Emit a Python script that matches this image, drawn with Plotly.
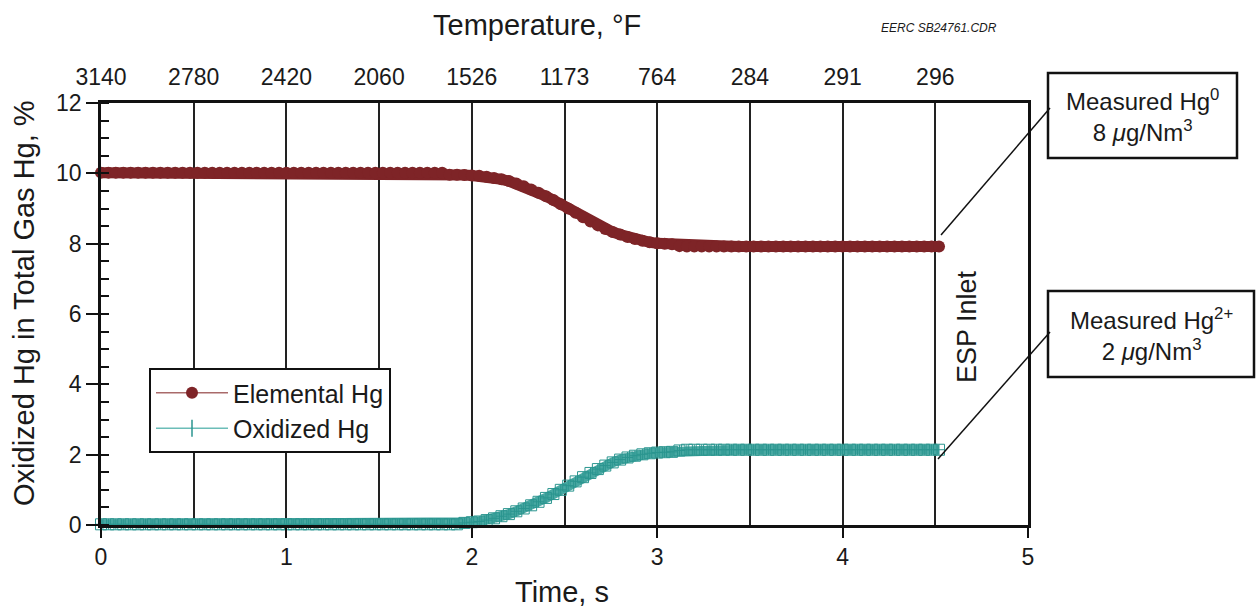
import plotly.graph_objects as go

# ---------------- data ----------------
TIME_S = [round(0.04 * i, 2) for i in range(114)]  # sampling times, 0 .. 4.52 s

ELEMENTAL_HG = [
    10.02, 10.02, 10.02, 10.02, 10.02, 10.02, 10.02, 10.02, 10.02, 10.02,
    10.02, 10.02, 10.02, 10.02, 10.02, 10.02, 10.02, 10.02, 10.02, 10.02,
    10.02, 10.02, 10.02, 10.02, 10.02, 10.02, 10.02, 10.02, 10.02, 10.02,
    10.02, 10.02, 10.02, 10.02, 10.02, 10.02, 10.02, 10.02, 10.02, 10.02,
    10.02, 10.02, 10.02, 10.02, 10.02, 10.02, 10.02,
    9.96, 9.96, 9.95, 9.94, 9.93, 9.90, 9.87, 9.83, 9.78, 9.71,
    9.63, 9.54, 9.45, 9.35, 9.24, 9.12, 9.00, 8.88, 8.75, 8.63,
    8.52, 8.42, 8.33, 8.26, 8.19, 8.13, 8.08, 8.04, 8.01, 8.00,
    7.98, 7.93,
    7.92, 7.92, 7.92, 7.92, 7.92, 7.92, 7.92, 7.92, 7.92, 7.92,
    7.92, 7.92, 7.92, 7.92, 7.92, 7.92, 7.92, 7.92, 7.92, 7.92,
    7.92, 7.92, 7.92, 7.92, 7.92, 7.92, 7.92, 7.92, 7.92, 7.92,
    7.92, 7.92, 7.92, 7.92, 7.92,
]

OXIDIZED_HG = [
    0.02, 0.02, 0.02, 0.02, 0.02, 0.02, 0.02, 0.02, 0.02, 0.02,
    0.02, 0.02, 0.02, 0.02, 0.02, 0.02, 0.02, 0.02, 0.02, 0.02,
    0.02, 0.02, 0.02, 0.02, 0.02, 0.02, 0.02, 0.02, 0.02, 0.02,
    0.02, 0.02, 0.02, 0.02, 0.02, 0.02, 0.02, 0.02, 0.02, 0.02,
    0.02, 0.02, 0.02, 0.02, 0.02, 0.02, 0.02, 0.02, 0.02,
    0.06, 0.08, 0.10, 0.14, 0.19, 0.25, 0.31, 0.39, 0.47, 0.56,
    0.66, 0.77, 0.88, 1.00, 1.12, 1.24, 1.36, 1.48, 1.59, 1.69,
    1.78, 1.86, 1.92, 1.97, 2.01, 2.04, 2.06, 2.07, 2.08, 2.12,
    2.14, 2.14, 2.14, 2.14, 2.14, 2.14, 2.14, 2.14, 2.14, 2.14,
    2.14, 2.14, 2.14, 2.14, 2.14, 2.14, 2.14, 2.14, 2.14, 2.14,
    2.14, 2.14, 2.14, 2.14, 2.14, 2.14, 2.14, 2.14, 2.14, 2.14,
    2.14, 2.14, 2.14, 2.14, 2.14,
]

BOTTOM_TICKS = [0, 1, 2, 3, 4, 5]
TOP_TICK_POS = [0, 0.5, 1, 1.5, 2, 2.5, 3, 3.5, 4, 4.5]
TOP_TICK_TEMPS = ["3140", "2780", "2420", "2060", "1526", "1173", "764", "284", "291", "296"]
Y_TICKS = [0, 2, 4, 6, 8, 10, 12]

# ---------------- styling ----------------
FONT = "Liberation Sans, Arial, Helvetica, sans-serif"
RED = "#7e2427"
RED_LIGHT = "#a96a6a"
TEAL = "#2a958f"
TEAL_BAND = "#48a8a2"

W, H = 1256, 613
L, R, T, B = 101, 1028, 103, 525


def px(x):
    return (x - L) / (R - L)


def py(y):
    return (B - y) / (B - T)


fig = go.Figure()

fig.add_trace(go.Scatter(
    x=TIME_S, y=ELEMENTAL_HG, mode="lines+markers",
    line=dict(color=RED, width=11),
    marker=dict(symbol="circle", size=12, color=RED),
    showlegend=False, cliponaxis=False,
))
fig.add_trace(go.Scatter(
    x=TIME_S, y=OXIDIZED_HG, mode="lines+markers",
    line=dict(color=TEAL_BAND, width=10),
    marker=dict(symbol="square-cross-open", size=11, color=TEAL, line=dict(width=1)),
    showlegend=False, cliponaxis=False,
))

# legend-only entries (thin line + marker, like the reference key)
fig.add_trace(go.Scatter(
    x=[None], y=[None], xaxis="x2", mode="lines+markers", name="Elemental Hg",
    line=dict(color=RED_LIGHT, width=1.5),
    marker=dict(symbol="circle", size=12, color=RED),
))
fig.add_trace(go.Scatter(
    x=[None], y=[None], xaxis="x2", mode="lines+markers", name="Oxidized Hg",
    line=dict(color="#6cbdb8", width=1.5),
    marker=dict(symbol="line-ns", size=12, color=TEAL, line=dict(width=1.5, color=TEAL)),
))

fig.update_layout(
    width=W, height=H,
    margin=dict(l=L, r=W - R, t=T, b=H - B),
    paper_bgcolor="white", plot_bgcolor="white",
    font=dict(family=FONT, size=23, color="#1a1a1a"),
    xaxis=dict(
        range=[0, 5], tickvals=BOTTOM_TICKS, ticks="outside", ticklen=10, tickwidth=2,
        tickcolor="#111", showline=True, linecolor="#111", linewidth=2.5, mirror=True,
        showgrid=False, zeroline=False, tickfont=dict(size=23),
    ),
    xaxis2=dict(
        overlaying="x", side="top", range=[0, 5], tickvals=TOP_TICK_POS,
        ticktext=TOP_TICK_TEMPS, ticks="", showline=False, showgrid=True,
        gridcolor="#222", gridwidth=1.5, zeroline=False, tickfont=dict(size=23),
        ticklabelstandoff=12,
    ),
    yaxis=dict(
        range=[0, 12], tickvals=Y_TICKS, ticks="outside", ticklen=12, tickwidth=2,
        tickcolor="#111", showline=True, linecolor="#111", linewidth=2.5, mirror=True,
        showgrid=False, zeroline=False, tickfont=dict(size=23),
        minor=dict(dtick=0.5, ticks="inside", ticklen=8, tickwidth=1.5, tickcolor="#111",
                   showgrid=False),
    ),
    legend=dict(
        x=px(149), y=py(368), xanchor="left", yanchor="top",
        bordercolor="#111", borderwidth=2, bgcolor="white",
        font=dict(size=25), tracegroupgap=0, itemwidth=72,
    ),
)

# titles / text
fig.add_annotation(text="Temperature, °F", xref="paper", yref="paper",
                   x=px(537), y=py(25), showarrow=False, font=dict(size=29),
                   xanchor="center", yanchor="middle")
fig.add_annotation(text="<i>EERC SB24761.CDR</i>", xref="paper", yref="paper",
                   x=px(939), y=py(28), showarrow=False, font=dict(size=12),
                   xanchor="center", yanchor="middle")
fig.add_annotation(text="Time, s", xref="paper", yref="paper",
                   x=px(562), y=py(592), showarrow=False, font=dict(size=29),
                   xanchor="center", yanchor="middle")
fig.add_annotation(text="Oxidized Hg in Total Gas Hg, %", xref="paper", yref="paper",
                   x=px(24), y=py(303), showarrow=False, font=dict(size=29),
                   textangle=-90, xanchor="center", yanchor="middle")
fig.add_annotation(text="ESP Inlet", xref="paper", yref="paper",
                   x=px(967), y=py(327), showarrow=False, font=dict(size=27),
                   textangle=-90, xanchor="center", yanchor="middle")

# callout boxes
boxes = [
    (1048, 73, 1237, 158, "Measured Hg<sup>0</sup><br>8 <i>μ</i>g/Nm<sup>3</sup>"),
    (1048, 291, 1254, 377, "Measured Hg<sup>2+</sup><br>2 <i>μ</i>g/Nm<sup>3</sup>"),
]
for x0, y0, x1, y1, txt in boxes:
    fig.add_shape(type="rect", xref="paper", yref="paper",
                  x0=px(x0), y0=py(y0), x1=px(x1), y1=py(y1),
                  line=dict(color="#111", width=2.5), fillcolor="white", layer="above")
    fig.add_annotation(text=txt, xref="paper", yref="paper",
                       x=px((x0 + x1) / 2), y=py((y0 + y1) / 2), showarrow=False,
                       font=dict(size=24), align="center",
                       xanchor="center", yanchor="middle")

# leader lines
for (ax0, ay0, ax1, ay1) in [(941, 235, 1050, 108), (938, 459, 1050, 332)]:
    fig.add_shape(type="line", xref="paper", yref="paper",
                  x0=px(ax0), y0=py(ay0), x1=px(ax1), y1=py(ay1),
                  line=dict(color="#111", width=1.5), layer="above")

fig.write_html("out.html")
